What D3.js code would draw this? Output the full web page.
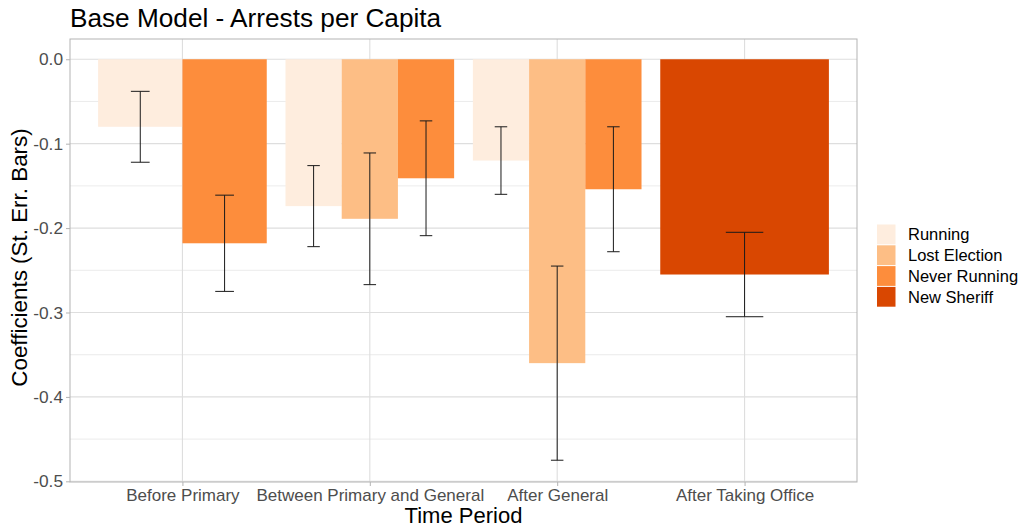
<!DOCTYPE html>
<html>
<head>
<meta charset="utf-8">
<script src="https://cdn.jsdelivr.net/npm/d3@7"></script>
<style>
  html, body { margin: 0; padding: 0; background: #fff; }
  svg { display: block; font-family: "Liberation Sans", Arial, sans-serif; }
</style>
</head>
<body>
<svg id="chart" width="1023" height="531"></svg>
<script>
// Time periods on the x axis
const categories = ["Before Primary", "Between Primary and General", "After General", "After Taking Office"];
// Sheriff groups (legend order)
const seriesNames = ["Running", "Lost Election", "Never Running", "New Sheriff"];
const seriesColors = ["#feedde", "#fdbe85", "#fd8d3c", "#d94701"];

// Coefficients per period (null = not estimated for that period)
const running      = [-0.080, -0.174, -0.120, null];
const lostElection = [null,   -0.189, -0.360, null];
const neverRunning = [-0.218, -0.141, -0.154, null];
const newSheriff   = [null,   null,   null,   -0.255];

// Standard errors
const runningSE      = [0.042, 0.048, 0.040, null];
const lostElectionSE = [null,  0.078, 0.115, null];
const neverRunningSE = [0.057, 0.068, 0.074, null];
const newSheriffSE   = [null,  null,  null,  0.050];

const yTicks = [0.0, -0.1, -0.2, -0.3, -0.4, -0.5];
const yMinor = [-0.05, -0.15, -0.25, -0.35, -0.45];

const seriesValues = [running, lostElection, neverRunning, newSheriff];
const seriesSE = [runningSE, lostElectionSE, neverRunningSE, newSheriffSE];

// Long-format rows, dodged within each period among the groups present
const rows = [];
categories.forEach((cat, ci) => {
  const present = seriesNames.map((s, si) => si).filter(si => seriesValues[si][ci] !== null);
  present.forEach((si, k) => {
    rows.push({
      cat, ci, series: seriesNames[si], si,
      value: seriesValues[si][ci],
      se: seriesSE[si][ci],
      k, n: present.length
    });
  });
});

const svg = d3.select("#chart");
const panel = { left: 70, right: 857, top: 39, bottom: 482 };

// Discrete x positions 1..4 with 0.6 expansion on each side
const x = d3.scaleLinear().domain([0.4, categories.length + 0.6]).range([panel.left, panel.right]);
const y = d3.scaleLinear().domain([0.024, -0.5008]).range([panel.top, panel.bottom]);

const g = svg.append("g");

// Grid
g.selectAll("line.minor").data(yMinor).join("line")
  .attr("x1", panel.left).attr("x2", panel.right)
  .attr("y1", d => y(d)).attr("y2", d => y(d))
  .attr("stroke", "#e6e6e6").attr("stroke-width", 0.8);
g.selectAll("line.majory").data(yTicks).join("line")
  .attr("x1", panel.left).attr("x2", panel.right)
  .attr("y1", d => y(d)).attr("y2", d => y(d))
  .attr("stroke", "#dedede").attr("stroke-width", 1.1);
g.selectAll("line.majorx").data(categories).join("line")
  .attr("x1", (d, i) => x(i + 1)).attr("x2", (d, i) => x(i + 1))
  .attr("y1", panel.top).attr("y2", panel.bottom)
  .attr("stroke", "#dedede").attr("stroke-width", 1.1);

// Bars: total group width 0.9 split across present groups
const groupW = 0.9;
const barX0 = d => (d.ci + 1) - groupW / 2 + d.k * groupW / d.n;
const barCenter = d => barX0(d) + groupW / d.n / 2;

g.selectAll("rect.bar").data(rows).join("rect")
  .attr("x", d => x(barX0(d)))
  .attr("width", d => x(barX0(d) + groupW / d.n) - x(barX0(d)))
  .attr("y", d => y(Math.max(0, d.value)))
  .attr("height", d => Math.abs(y(d.value) - y(0)))
  .attr("fill", d => seriesColors[d.si]);

// Error bars (cap width 0.2 split across groups)
const eb = g.selectAll("g.eb").data(rows).join("g");
const capHalf = d => (0.2 / d.n) / 2;
eb.append("line")
  .attr("x1", d => x(barCenter(d))).attr("x2", d => x(barCenter(d)))
  .attr("y1", d => y(d.value + d.se)).attr("y2", d => y(d.value - d.se))
  .attr("stroke", "#1a1a1a").attr("stroke-width", 1);
eb.append("line")
  .attr("x1", d => x(barCenter(d) - capHalf(d))).attr("x2", d => x(barCenter(d) + capHalf(d)))
  .attr("y1", d => y(d.value + d.se)).attr("y2", d => y(d.value + d.se))
  .attr("stroke", "#1a1a1a").attr("stroke-width", 1);
eb.append("line")
  .attr("x1", d => x(barCenter(d) - capHalf(d))).attr("x2", d => x(barCenter(d) + capHalf(d)))
  .attr("y1", d => y(d.value - d.se)).attr("y2", d => y(d.value - d.se))
  .attr("stroke", "#1a1a1a").attr("stroke-width", 1);

// Panel border
g.append("rect")
  .attr("x", panel.left).attr("y", panel.top)
  .attr("width", panel.right - panel.left).attr("height", panel.bottom - panel.top)
  .attr("fill", "none").attr("stroke", "#b3b3b3").attr("stroke-width", 1);

// Y axis
const yAxis = d3.axisLeft(y).tickValues(yTicks).tickFormat(d3.format(".1f")).tickSize(4).tickPadding(3);
const ya = svg.append("g").attr("transform", `translate(${panel.left},0)`).call(yAxis);
ya.select(".domain").remove();
ya.selectAll(".tick line").attr("stroke", "#b3b3b3");
ya.selectAll(".tick text").attr("fill", "#4d4d4d").style("font-size", "17.3px")
  .style("font-family", '"Liberation Sans", Arial, sans-serif')
  .text(d => d3.format(".1f")(d).replace("−", "-"));

// X axis
const xAxis = d3.axisBottom(x).tickValues(categories.map((c, i) => i + 1))
  .tickFormat((d, i) => categories[i]).tickSize(4).tickPadding(3);
const xa = svg.append("g").attr("transform", `translate(0,${panel.bottom})`).call(xAxis);
xa.select(".domain").remove();
xa.selectAll(".tick line").attr("stroke", "#b3b3b3");
xa.selectAll(".tick text").attr("fill", "#4d4d4d").style("font-size", "17px")
  .style("font-family", '"Liberation Sans", Arial, sans-serif');

// Titles
svg.append("text").attr("x", panel.left).attr("y", 27)
  .style("font-size", "26.2px").attr("fill", "#000")
  .text("Base Model - Arrests per Capita");
svg.append("text").attr("x", (panel.left + panel.right) / 2).attr("y", 523)
  .attr("text-anchor", "middle").style("font-size", "22px").attr("fill", "#000")
  .text("Time Period");
svg.append("text")
  .attr("transform", `translate(27,257.5) rotate(-90)`)
  .attr("text-anchor", "middle").style("font-size", "22.4px").attr("fill", "#000")
  .text("Coefficients (St. Err. Bars)");

// Legend
const legend = svg.append("g").attr("transform", "translate(877,224)");
const keyH = 20.8;
const li = legend.selectAll("g").data(seriesNames).join("g")
  .attr("transform", (d, i) => `translate(0,${i * keyH})`);
li.append("rect").attr("x", 0).attr("y", 0.5).attr("width", 18.5).attr("height", keyH - 1)
  .attr("fill", (d, i) => seriesColors[i]);
li.append("text").attr("x", 31).attr("y", keyH / 2 + 6)
  .style("font-size", "16.5px").attr("fill", "#000").text(d => d);
</script>
</body>
</html>
